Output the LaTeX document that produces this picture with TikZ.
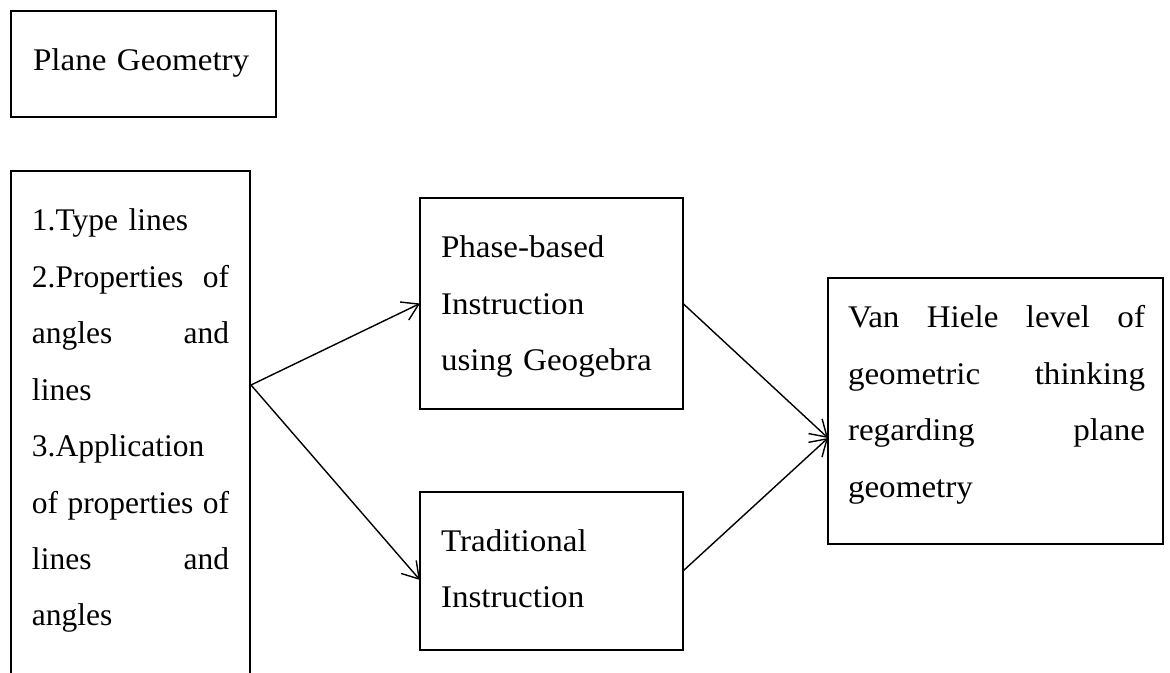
\documentclass[tikz,border=0pt]{standalone}
\usepackage{fontspec}
\setmainfont{Liberation Serif}
\newfontfamily\cambria[FakeStretch=1.05]{Liberation Serif}
\usetikzlibrary{arrows.meta,calc}
\newcommand{\jline}[2]{\leavevmode\hbox to #1{\spaceskip=0.25em plus 1fill\relax #2}}
\begin{document}
\begin{tikzpicture}[x=0.5pt,y=-0.5pt,
  frame/.style={draw,line width=0.8pt,inner sep=0pt,outer sep=0pt},
  ghost/.style={inner sep=0pt,outer sep=0pt},
  txt/.style={inner sep=0pt,outer sep=0pt,anchor=base west,align=left,
    font=\fontsize{15.75pt}{28.2pt}\selectfont},
  ctxt/.style={txt,font=\cambria\fontsize{15.75pt}{28.2pt}\selectfont},
  arr/.style={line width=0.7pt,-{Straight Barb[length=8pt,width=10pt,line width=0.7pt]}}]
\clip (0,0) rectangle (1170,673);
\fill[white] (0,0) rectangle (1170,673);

% boxes
\node[frame,minimum width=132.5pt,minimum height=53pt] (plane) at (143.5,64) {};
\node[ghost,minimum width=119.5pt,minimum height=259pt] (lbox) at (130.5,430) {};
\draw[line width=0.8pt] (lbox.south west) -- (lbox.north west) -- (lbox.north east) -- (lbox.south east);
\node[frame,minimum width=131.5pt,minimum height=105.5pt] (phase) at (551.5,303.5) {};
\node[frame,minimum width=131.5pt,minimum height=79pt] (trad) at (551.5,571) {};
\node[frame,minimum width=167.5pt,minimum height=133pt] (van) at (995.5,411) {};

% texts
\node[ctxt,text width=110pt] (planet) at (33,71) {Plane Geometry};
\node[txt,text width=98.5pt] (lboxt) at (32,231) {1.Type lines\\
\jline{98.5pt}{2.Properties of}\\
\jline{98.5pt}{angles and}\\
lines\\
3.Application\\
\jline{98.5pt}{of properties of}\\
\jline{98.5pt}{lines and}\\
angles};
\node[ctxt,text width=110pt] (phaset) at (441,258) {Phase-based\\Instruction\\using Geogebra};
\node[ctxt,text width=110pt] (tradt) at (441,551) {Traditional\\Instruction};
\node[ctxt,text width=148.5pt] (vant) at (848,328) {\jline{148.5pt}{Van Hiele level of}\\
\jline{148.5pt}{geometric thinking}\\
\jline{148.5pt}{regarding plane}\\
geometry};

% connectors
\coordinate (fork) at (251,385);
\coordinate (vanin) at (828,438);
\coordinate (trin) at ($(trad.west)+(0,9)$);
\draw[arr] (fork) -- (phase.west);
\draw[arr] (fork) -- (trin);
\draw[arr] (phase.east) -- (vanin);
\draw[arr] (trad.east) -- (vanin);
\end{tikzpicture}
\end{document}
